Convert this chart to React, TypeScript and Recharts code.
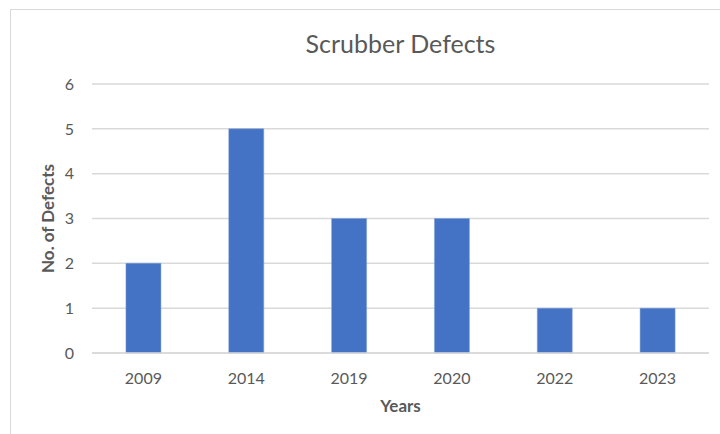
import { BarChart, Bar, XAxis, YAxis, CartesianGrid } from 'recharts';

const years = ['2009', '2014', '2019', '2020', '2022', '2023'];
const defects = [2, 5, 3, 3, 1, 1];
const yTicks = [0, 1, 2, 3, 4, 5, 6];

const chartData = years.map((year, i) => ({ year, defects: defects[i] }));

const FONT = 'Lato, "Open Sans", sans-serif';
const TEXT = '#595959';

export default function App() {
  return (
    <div style={{ position: 'absolute', left: 0, top: 0, width: 720, height: 434, background: '#fff', fontFamily: FONT }}>
      {/* chart frame */}
      <div
        style={{
          position: 'absolute',
          left: 10,
          top: 9,
          width: 720,
          height: 440,
          borderTop: '1px solid #d9d9d9',
          borderLeft: '1px solid #d9d9d9',
        }}
      />
      <div
        style={{
          position: 'absolute',
          left: 92,
          width: 617,
          top: 27,
          textAlign: 'center',
          fontSize: 25,
          color: TEXT,
          lineHeight: '32px',
        }}
      >
        Scrubber Defects
      </div>
      <div style={{ position: 'absolute', left: 0, top: 0 }}>
        <BarChart
          width={720}
          height={434}
          data={chartData}
          margin={{ top: 84, right: 11, bottom: 0, left: 0 }}
          barCategoryGap="33%"
        >
          <CartesianGrid vertical={false} stroke="#d9d9d9" strokeWidth={1.5} />
          <XAxis
            dataKey="year"
            axisLine={{ stroke: '#d9d9d9', strokeWidth: 1.5 }}
            tickLine={false}
            tickMargin={14}
            tick={{ fill: TEXT, fontSize: 16, fontFamily: FONT }}
            label={{
              value: 'Years',
              position: 'insideBottom',
              offset: 22,
              fill: TEXT,
              fontSize: 17,
              fontWeight: 'bold',
              fontFamily: FONT,
            }}
            height={81}
          />
          <YAxis
            width={92}
            domain={[0, 6]}
            ticks={yTicks}
            axisLine={false}
            tickLine={false}
            tickSize={0}
            tickMargin={18}
            tick={{ fill: TEXT, fontSize: 16, fontFamily: FONT }}
            label={{
              value: 'No. of Defects',
              angle: -90,
              position: 'insideLeft',
              offset: 48,
              style: { textAnchor: 'middle' },
              fill: TEXT,
              fontSize: 17,
              fontWeight: 'bold',
              fontFamily: FONT,
            }}
          />
          <Bar dataKey="defects" fill="#4472c4" stroke="#7f9fd6" strokeWidth={0.5} isAnimationActive={false} />
        </BarChart>
      </div>
    </div>
  );
}
